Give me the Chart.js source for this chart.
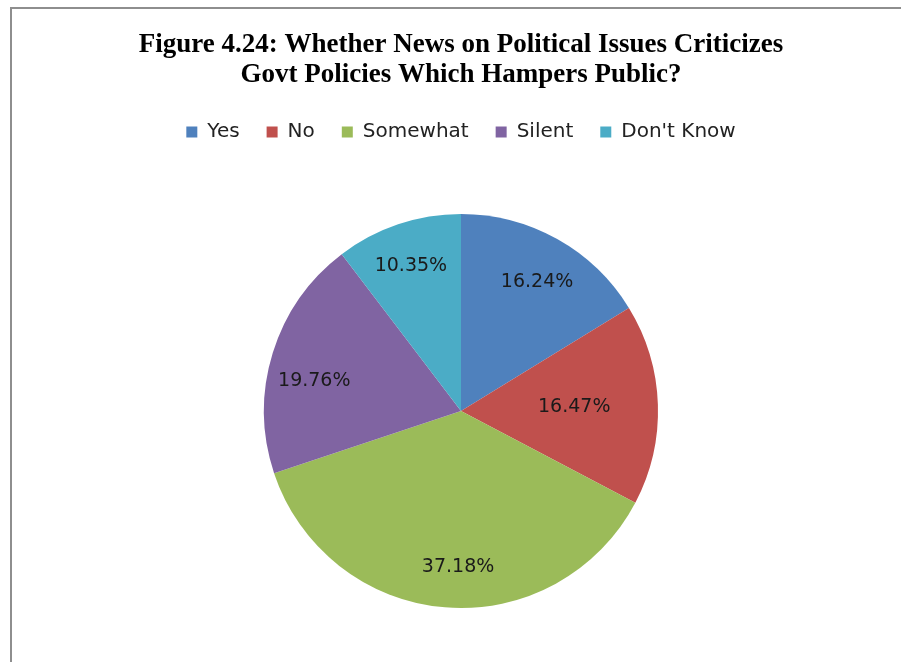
<!DOCTYPE html>
<html>
<head>
<meta charset="utf-8">
<script src="https://cdn.jsdelivr.net/npm/chart.js@4"></script>
<style>
  body { margin: 0; background: #fff; overflow: hidden; }
  #frame {
    position: absolute; left: 10px; top: 7px;
    width: 1000px; height: 800px;
    border: 2px solid #8e8e8e;
  }
  #myChart { position: absolute; left: 0; top: 0; }
</style>
</head>
<body>
<div id="frame"></div>
<canvas id="myChart" width="901" height="680"></canvas>
<script>
const categories = ['Yes', 'No', 'Somewhat', 'Silent', "Don't Know"];
const percentages = [16.24, 16.47, 37.18, 19.76, 10.35];
const sliceColors = ['#4F81BD', '#C0504D', '#9BBB59', '#8064A2', '#4BACC6'];
// label placement inside each slice: fraction of radius, and a small turn (degrees) off the slice middle
const labelRadius = [0.76, 0.575, 0.79, 0.76, 0.78];
const labelTurn = [1.3, 0, -3.6, -5.7, -0.4];

const sliceLabels = {
  id: 'sliceLabels',
  afterDatasetsDraw(chart) {
    const c = chart.ctx;
    const arcs = chart.getDatasetMeta(0).data;
    c.save();
    c.font = '19px "DejaVu Sans"';
    c.fillStyle = '#1a1a1a';
    c.textAlign = 'center';
    c.textBaseline = 'middle';
    arcs.forEach((arc, i) => {
      const p = arc.getProps(['x', 'y', 'startAngle', 'endAngle', 'outerRadius'], true);
      const mid = (p.startAngle + p.endAngle) / 2 + labelTurn[i] * Math.PI / 180;
      const r = p.outerRadius * labelRadius[i];
      const v = chart.data.datasets[0].data[i];
      c.fillText(v.toFixed(2) + '%', p.x + Math.cos(mid) * r, p.y + Math.sin(mid) * r);
    });
    c.restore();
  }
};

const ctx = document.getElementById('myChart');
const myChart = new Chart(ctx, {
  type: 'pie',
  data: {
    labels: categories,
    datasets: [{
      data: percentages,
      backgroundColor: sliceColors,
      borderWidth: 0,
      radius: 197
    }]
  },
  options: {
    responsive: false,
    animation: false,
    layout: { padding: { left: 21, right: 0, top: 0, bottom: 10 } },
    plugins: {
      tooltip: { enabled: false },
      title: {
        display: true,
        text: ['Figure 4.24: Whether News on Political Issues Criticizes',
               'Govt Policies Which Hampers Public?'],
        color: '#000',
        font: { family: '"Liberation Serif"', size: 27, weight: 'bold', lineHeight: '30px' },
        padding: { top: 30, bottom: 5 }
      },
      legend: {
        position: 'top',
        labels: {
          color: '#222',
          boxWidth: 11,
          boxHeight: 11,
          padding: 27,
          font: { family: '"DejaVu Sans"', size: 20 }
        }
      }
    }
  },
  plugins: [sliceLabels]
});
</script>
</body>
</html>
